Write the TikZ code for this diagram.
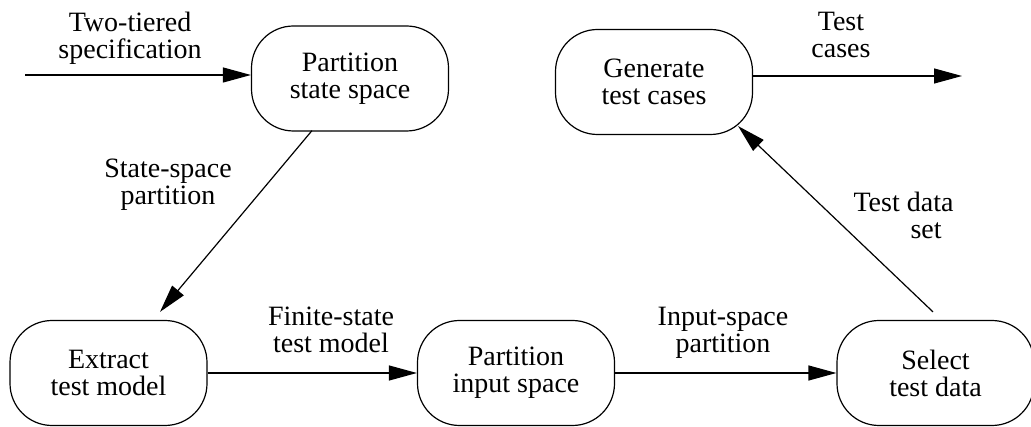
\documentclass[tikz,border=0pt]{standalone}
\usepackage{fontspec}
\setmainfont{Liberation Serif}
\usetikzlibrary{arrows.meta,calc}
\begin{document}
\begin{tikzpicture}[x=1pt,y=-1pt,
  proc/.style={draw, line width=1.2pt, rounded corners=42pt,
    minimum width=197pt, minimum height=105pt, align=center,
    inner sep=0pt, font=\fontsize{28}{27}\selectfont},
  flow/.style={line width=1.2pt, -{Triangle[length=28pt,width=15pt]}},
  lbl/.style={align=center, anchor=north, inner sep=0pt,
    font=\fontsize{28}{27}\selectfont}]
\useasboundingbox (0,0) rectangle (1031,427);

% process boxes
\node[proc] (pss) at (350,78.5) {Partition\\state space};
\node[proc] (gtc) at (654,82) {Generate\\test cases};
\node[proc] (etm) at (108.5,373) {Extract\\test model};
\node[proc] (pis) at (516,373) {Partition\\input space};
\node[proc] (std) at (935.5,373) {Select\\test data};

% free ends of the input and output flows
\coordinate (src) at (25,75);
\coordinate (sink) at (962,76);

% flows
\draw[flow] (src) -- (src -| pss.west);
\draw[flow] (sink -| gtc.east) -- (sink);
\draw[flow] ($(pss.south)+(-38,-1)$) -- ($(etm.north)+(51.5,-8)$);
\draw[flow] (etm.east) -- (pis.west);
\draw[flow] (pis.east) -- (std.west);
\draw[flow] ($(std.north)+(-2.5,-8)$) -- ($(gtc.south east)+(-15,-9)$);

% flow labels
\node[lbl] (l1) at (130,12) {Two-tiered\\specification};
\node[lbl] (l2) at (841,12) {Test\\cases};
\node[lbl] (l3) at (168,159) {State-space\\partition};
\node[lbl] (l4) at (331,307) {Finite-state\\test model};
\node[lbl] (l5) at (723,307) {Input-space\\partition};
\node[lbl, align=left] (l6) at (903.5,192) {Test data\\\hspace*{57pt}set};
\end{tikzpicture}
\end{document}
